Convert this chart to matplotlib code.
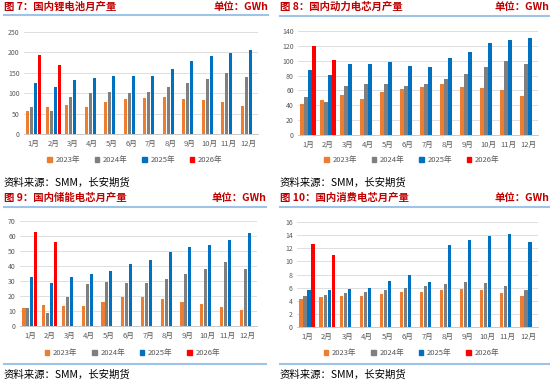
import matplotlib.pyplot as plt
from matplotlib.lines import Line2D
from matplotlib.patches import Patch
import numpy as np

plt.rcParams['font.family'] = ['Noto Sans CJK SC', 'DejaVu Sans']

months = ['1月', '2月', '3月', '4月', '5月', '6月', '7月', '8月', '9月', '10月', '11月', '12月']
years = ['2023年', '2024年', '2025年', '2026年']
colors = ['#ED7D31', '#7F7F7F', '#0070C0', '#FF0000']

# 图7 锂电池
li_2023 = [57, 65, 72, 65, 79, 87, 88, 91, 86, 83, 78, 69]
li_2024 = [67, 57, 91, 101, 104, 101, 104, 114, 125, 136, 149, 140]
li_2025 = [126, 116, 133, 137, 141, 143, 143, 160, 178, 192, 199, 207]
li_2026 = [194, 169]

# 图8 动力电芯
pw_2023 = [42, 47, 54, 48, 58, 62, 64, 68, 64, 63, 60, 53]
pw_2024 = [51, 44, 66, 68, 68, 66, 69, 76, 82, 91, 100, 95]
pw_2025 = [88, 81, 95, 96, 98, 93, 92, 103, 112, 124, 128, 131]
pw_2026 = [120, 101]

# 图9 储能电芯
st_2023 = [12, 14, 13.5, 13.5, 16, 19.5, 19.5, 18, 16, 14.5, 12.5, 11]
st_2024 = [12, 9, 19.5, 28, 29.5, 29, 28.5, 31.5, 35, 38, 42.5, 38]
st_2025 = [32.5, 29, 33, 34.5, 36.5, 41.5, 44, 49.5, 52.5, 54, 57.5, 62]
st_2026 = [62.5, 56]

# 图10 消费电芯
cs_2023 = [4.2, 4.5, 4.7, 4.8, 5.0, 5.3, 5.4, 5.6, 5.8, 5.7, 5.2, 4.8]
cs_2024 = [4.7, 4.9, 5.2, 5.3, 5.6, 6.0, 6.2, 6.5, 6.8, 6.7, 6.2, 5.7]
cs_2025 = [5.7, 5.6, 5.8, 6.0, 7.0, 8.0, 6.8, 12.5, 13.3, 13.8, 14.1, 12.9]
cs_2026 = [12.6, 11.0]

W, H = 550, 385
fig = plt.figure(figsize=(W / 100, H / 100), dpi=100)


def box(l, r, t, b):
    return [l / W, 1 - b / H, (r - l) / W, (b - t) / H]


def fy(y):
    return 1 - y / H


def panel(title, series, ymax, step, ax_box, x0, x1, title_y, line_y, leg_y, src_y, bottom_line=None):
    ax = fig.add_axes(box(*ax_box))
    x = np.arange(12)
    for i, vals in enumerate(series):
        xs = x[:len(vals)] + (i - 1.5) * 0.2
        ax.bar(xs, vals, width=0.16, color=colors[i], zorder=3)
    ax.set_xlim(-0.5, 11.5)
    ax.set_ylim(0, ymax)
    ax.set_yticks(np.arange(0, ymax + step / 2, step))
    ax.set_xticks(x)
    ax.set_xticklabels(months)
    ax.tick_params(length=0, labelsize=5, colors='#595959', pad=3)
    ax.tick_params(axis='x', labelsize=5.5, pad=4)
    ax.grid(axis='y', color='#D9D9D9', linewidth=0.6, zorder=0)
    for s in ['top', 'right', 'left']:
        ax.spines[s].set_visible(False)
    ax.spines['bottom'].set_color('#BFBFBF')
    ax.spines['bottom'].set_linewidth(0.6)

    # 标题栏
    fig.text(x0 / W, fy(title_y), title, color='#C00000', fontsize=7.5,
             fontweight='bold', va='center', ha='left')
    fig.text(x1 / W, fy(title_y), '单位：GWh', color='#C00000', fontsize=7.5,
             fontweight='bold', va='center', ha='right')
    fig.add_artist(Line2D([x0 / W, x1 / W], [fy(line_y), fy(line_y)],
                          color='#9DC3E6', linewidth=1.5))
    if bottom_line is not None:
        fig.add_artist(Line2D([x0 / W, x1 / W], [fy(bottom_line), fy(bottom_line)],
                              color='#9DC3E6', linewidth=1.5))

    handles = [Patch(color=c) for c in colors]
    cx = (ax_box[0] + ax_box[1]) / 2 - 6
    fig.legend(handles, years, loc='center', bbox_to_anchor=(cx / W, fy(leg_y)),
               ncol=4, frameon=False, fontsize=5.5, handlelength=0.6, handleheight=0.6,
               columnspacing=1.9, handletextpad=0.5, labelcolor='#595959')

    fig.text(x0 / W, fy(src_y), '资料来源：SMM，长安期货', color='black', fontsize=7.5,
             va='center', ha='left')


panel('图 7：国内锂电池月产量', [li_2023, li_2024, li_2025, li_2026], 250, 50,
      (24, 258, 32, 134), 4, 268, 7, 15, 160, 183)
panel('图 8：国内动力电芯月产量', [pw_2023, pw_2024, pw_2025, pw_2026], 140, 20,
      (298, 538, 31, 135), 280, 549, 7, 16, 160, 183)
panel('图 9：国内储能电芯月产量', [st_2023, st_2024, st_2025, st_2026], 70, 10,
      (20, 257, 221, 326), 4, 266, 198, 207, 353, 375, bottom_line=364)
panel('图 10：国内消费电芯月产量', [cs_2023, cs_2024, cs_2025, cs_2026], 16, 2,
      (297, 538, 222, 327), 280, 549, 198, 207, 353, 375, bottom_line=364)

fig.savefig('out.png', dpi=100)
